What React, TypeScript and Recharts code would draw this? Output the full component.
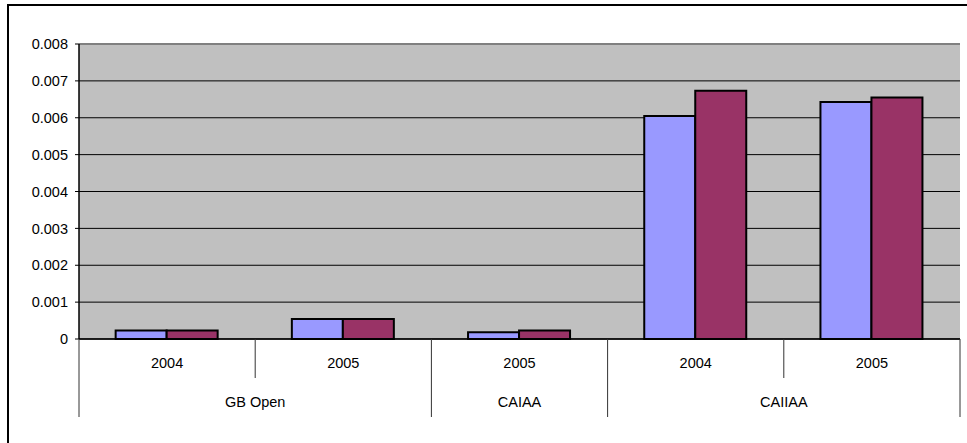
import { BarChart, Bar, XAxis, YAxis, CartesianGrid, ReferenceLine } from "recharts";

// Two-level category axis: year on the first row, event group on the second
const years = ["2004", "2005", "2005", "2004", "2005"];
const groups = ["GB Open", "GB Open", "CAIAA", "CAIIAA", "CAIIAA"];
const seriesA = [0.00023, 0.00054, 0.00018, 0.00605, 0.00643];
const seriesB = [0.00023, 0.00054, 0.00023, 0.00673, 0.00655];
const yTicks = [0, 0.001, 0.002, 0.003, 0.004, 0.005, 0.006, 0.007, 0.008];

const data = years.map((year, i) => ({
  key: `${groups[i]}-${year}-${i}`,
  year,
  group: groups[i],
  a: seriesA[i],
  b: seriesB[i],
}));

const W = 967;
const H = 443;
const MARGIN = { top: 44, right: 7, bottom: 24, left: 0 };
const Y_AXIS_W = 79;
const X_AXIS_H = 80;
const PLOT_W = W - MARGIN.left - Y_AXIS_W - MARGIN.right;
const BAND = PLOT_W / data.length;

const FONT = "'Liberation Sans', Arial, sans-serif";

function CategoryTick(props: any) {
  const { x, y, payload, index } = props;
  const i = index ?? payload.index;
  const left = x - BAND / 2;
  const right = x + BAND / 2;
  const isGroupStart = i === 0 || groups[i] !== groups[i - 1];
  const isLast = i === data.length - 1;

  // group label centred over its run of categories
  let groupLabel = null;
  if (isGroupStart) {
    let count = 1;
    while (i + count < groups.length && groups[i + count] === groups[i]) count++;
    groupLabel = (
      <text
        x={left + (count * BAND) / 2}
        y={y + 63}
        dy="0.35em"
        textAnchor="middle"
        fontFamily={FONT}
        fontSize={14.5}
        fill="#000"
      >
        {groups[i]}
      </text>
    );
  }

  return (
    <g>
      <line
        x1={left}
        x2={left}
        y1={y}
        y2={y + (isGroupStart ? 78 : 39)}
        stroke="#333"
        strokeWidth={1}
      />
      {isLast && (
        <line x1={right} x2={right} y1={y} y2={y + 78} stroke="#333" strokeWidth={1} />
      )}
      <text
        x={x}
        y={y + 24}
        dy="0.35em"
        textAnchor="middle"
        fontFamily={FONT}
        fontSize={14.5}
        fill="#000"
      >
        {payload.value}
      </text>
      {groupLabel}
    </g>
  );
}

export default function App() {
  return (
    <div style={{ position: "absolute", left: 0, top: 0, width: W, height: H, overflow: "hidden", background: "#fff" }}>
      <div
        style={{
          position: "absolute",
          left: 7,
          top: 4,
          width: 990,
          height: 470,
          border: "2px solid #000",
        }}
      />
      <div style={{ position: "absolute", left: 0, top: 0 }}>
        <BarChart
          width={W}
          height={H}
          data={data}
          margin={MARGIN}
          barCategoryGap="20.8%"
          barGap={0}
        >
          <CartesianGrid
            vertical={false}
            stroke="#000"
            strokeWidth={1}
            fill="#C0C0C0"
            fillOpacity={1}
          />
          <XAxis
            dataKey="year"
            interval={0}
            height={X_AXIS_H}
            tickSize={0}
            tickMargin={0}
            tickLine={false}
            axisLine={{ stroke: "#000", strokeWidth: 1.5 }}
            tick={<CategoryTick />}
          />
          <YAxis
            width={Y_AXIS_W}
            domain={[0, 0.008]}
            ticks={yTicks}
            interval={0}
            tickSize={4}
            tickMargin={7}
            tickLine={{ stroke: "#000" }}
            axisLine={{ stroke: "#000", strokeWidth: 1.5 }}
            tick={{ fontFamily: FONT, fontSize: 14.5, fill: "#000" }}
            tickFormatter={(v: number) => String(v)}
          />
          <YAxis
            yAxisId="frame"
            orientation="right"
            width={0}
            tick={false}
            tickLine={false}
            axisLine={{ stroke: "#808080", strokeWidth: 2 }}
          />
          <ReferenceLine y={0.008} stroke="#808080" strokeWidth={2} />
          <Bar dataKey="a" fill="#9999FF" stroke="#000" strokeWidth={2} isAnimationActive={false} />
          <Bar dataKey="b" fill="#993366" stroke="#000" strokeWidth={2} isAnimationActive={false} />
        </BarChart>
      </div>
    </div>
  );
}
